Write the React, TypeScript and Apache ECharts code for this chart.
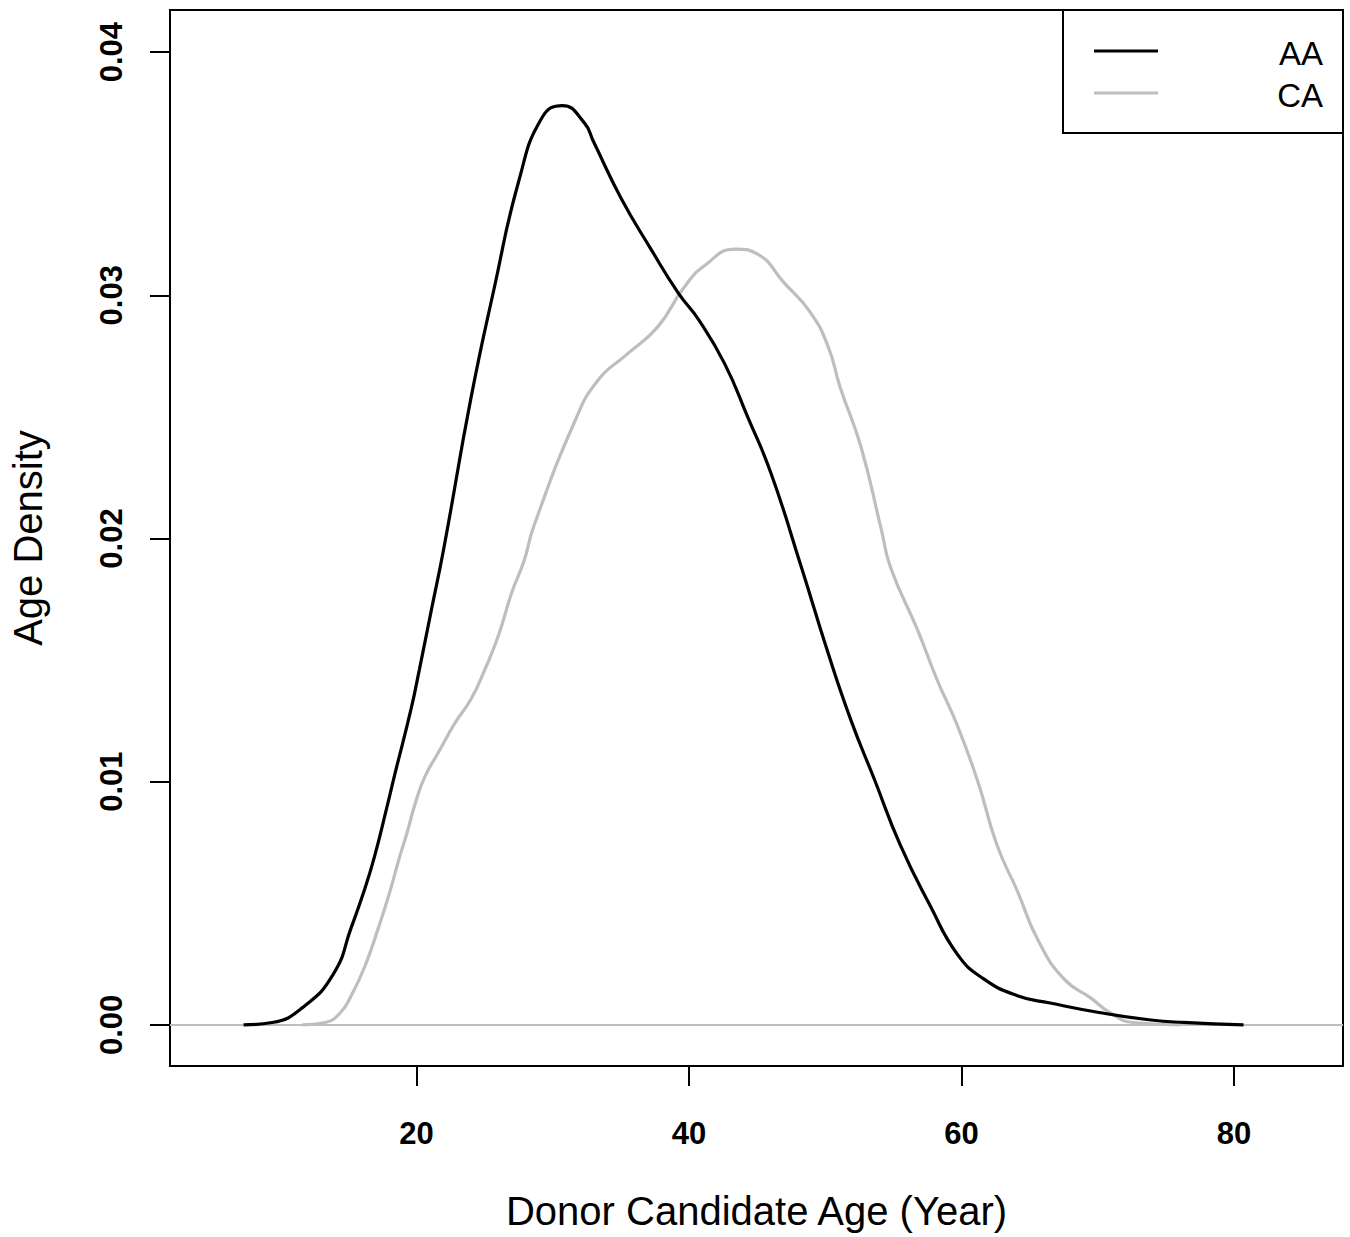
import React, { useEffect, useRef } from "react";
import * as echarts from "echarts";

// Donor candidate age (years) and kernel density estimates
const ageAA = [7.3, 9.4, 11.6, 13.9, 15.2, 16.2, 16.9, 17.8, 18.4, 19.6, 20.2, 21.1, 22.0, 24.0, 25.7, 27.5, 29.2, 30.7, 32.3, 33.0, 35.0, 37.2, 39.2, 40.7, 42.6, 44.3, 46.0, 48.2, 50.2, 51.9, 53.6, 55.5, 57.7, 59.7, 61.6, 64.1, 66.5, 70.2, 73.9, 76.3, 80.7];
const densAA = [0.0, 0.0001, 0.0007, 0.0021, 0.004, 0.0056, 0.0069, 0.0089, 0.0103, 0.013, 0.0146, 0.0171, 0.0196, 0.0258, 0.0303, 0.0347, 0.0373, 0.0378, 0.0371, 0.0363, 0.034, 0.0319, 0.0301, 0.029, 0.0272, 0.025, 0.0227, 0.0189, 0.0153, 0.0125, 0.0101, 0.0074, 0.0049, 0.0029, 0.0019, 0.0012, 0.0009, 0.0005, 0.0002, 0.0001, 0.0];

const ageCA = [11.6, 13.3, 14.4, 15.2, 16.2, 17.2, 18.0, 18.7, 19.3, 19.9, 20.6, 21.6, 22.8, 24.0, 25.0, 26.0, 27.0, 27.9, 28.6, 31.6, 33.3, 35.5, 37.7, 39.6, 41.1, 43.4, 45.0, 47.0, 48.9, 50.2, 51.1, 52.6, 54.1, 54.8, 56.8, 58.2, 59.7, 61.2, 62.6, 64.1, 65.6, 67.5, 69.5, 70.9, 72.6, 76.0];
const densCA = [0.0, 0.0001, 0.0005, 0.0012, 0.0024, 0.004, 0.0054, 0.0068, 0.0079, 0.0091, 0.0102, 0.0112, 0.0124, 0.0134, 0.0146, 0.016, 0.0178, 0.0191, 0.0205, 0.0248, 0.0265, 0.0276, 0.0287, 0.0303, 0.0312, 0.0319, 0.0317, 0.0305, 0.0293, 0.0279, 0.0262, 0.0238, 0.0204, 0.0188, 0.0162, 0.0142, 0.0123, 0.01, 0.0074, 0.0055, 0.0035, 0.0019, 0.0011, 0.0005, 0.0001, 0.0];

const xTicks = [20, 40, 60, 80];
const yTicks = [0.0, 0.01, 0.02, 0.03, 0.04];
const seriesNames = ["AA", "CA"];
const seriesColors = ["#000000", "#BEBEBE"];

const FONT = "'Liberation Sans', Arial, Helvetica, sans-serif";

export default function App() {
  const ref = useRef<HTMLDivElement>(null);

  useEffect(() => {
    if (!ref.current) return;
    const chart = echarts.init(ref.current, null, { renderer: "svg" });
    const aa = ageAA.map((x, i) => [x, densAA[i]]);
    const ca = ageCA.map((x, i) => [x, densCA[i]]);

    const legendLeft = 1063;
    const legendTop = 10;
    const legendGraphics: any[] = [
      {
        type: "rect",
        shape: { x: legendLeft, y: legendTop, width: 280, height: 123 },
        style: { fill: "none", stroke: "#000", lineWidth: 2 },
        z: 100,
      },
    ];
    seriesNames.forEach((name, i) => {
      const cy = 51 + i * 42;
      legendGraphics.push({
        type: "line",
        shape: { x1: 1094, y1: cy, x2: 1158, y2: cy },
        style: { stroke: seriesColors[i], lineWidth: 3 },
        z: 100,
      });
      legendGraphics.push({
        type: "text",
        x: 1323,
        y: cy + 2,
        style: {
          text: name,
          fill: "#000",
          font: `33px ${FONT}`,
          align: "right",
          verticalAlign: "middle",
        },
        z: 100,
      });
    });

    chart.setOption({
      animation: false,
      backgroundColor: "#fff",
      textStyle: { fontFamily: FONT },
      grid: {
        left: 168,
        top: 10,
        right: 7,
        bottom: 171,
        show: true,
        borderColor: "#000",
        borderWidth: 2,
        backgroundColor: "transparent",
      },
      xAxis: {
        type: "value",
        min: 1.9,
        max: 88,
        name: "Donor Candidate Age (Year)",
        nameLocation: "middle",
        nameGap: 125,
        nameTextStyle: { fontSize: 40, color: "#000", fontFamily: FONT },
        axisLine: { show: false, onZero: false },
        splitLine: { show: false },
        axisTick: {
          show: true,
          customValues: xTicks,
          length: 20,
          lineStyle: { color: "#000", width: 2 },
        },
        axisLabel: {
          customValues: xTicks,
          fontSize: 31,
          fontWeight: "bold",
          color: "#000",
          margin: 52,
          fontFamily: FONT,
        },
      },
      yAxis: {
        type: "value",
        min: -0.00169,
        max: 0.04173,
        name: "Age Density",
        nameLocation: "middle",
        nameRotate: 90,
        nameGap: 122,
        nameTextStyle: { fontSize: 40, color: "#000", fontFamily: FONT },
        axisLine: { show: false, onZero: false },
        splitLine: { show: false },
        axisTick: {
          show: true,
          customValues: yTicks,
          length: 20,
          lineStyle: { color: "#000", width: 2 },
        },
        axisLabel: {
          customValues: yTicks,
          rotate: 90,
          fontSize: 31,
          fontWeight: "bold",
          color: "#000",
          margin: 43,
          fontFamily: FONT,
          formatter: (v: number) => v.toFixed(2),
        },
      },
      series: [
        {
          name: seriesNames[0],
          type: "line",
          data: aa,
          showSymbol: false,
          smooth: 0.5,
          lineStyle: { color: seriesColors[0], width: 3.2 },
          z: 3,
          markLine: {
            silent: true,
            symbol: "none",
            label: { show: false },
            lineStyle: { color: "#BEBEBE", width: 2, type: "solid" },
            data: [{ yAxis: 0 }],
            z: 1,
          },
        },
        {
          name: seriesNames[1],
          type: "line",
          data: ca,
          showSymbol: false,
          smooth: 0.5,
          lineStyle: { color: seriesColors[1], width: 3.2 },
          z: 2,
        },
      ],
      graphic: legendGraphics,
    });

    return () => chart.dispose();
  }, []);

  return (
    <div
      ref={ref}
      style={{ position: "fixed", left: 0, top: 0, width: 1350, height: 1237 }}
    />
  );
}
